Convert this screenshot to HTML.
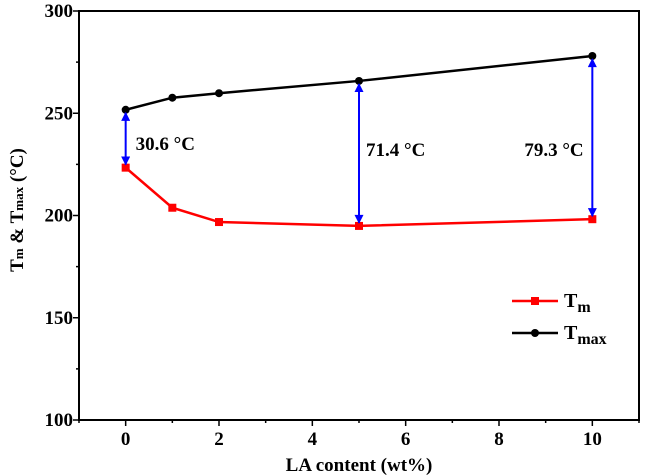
<!DOCTYPE html>
<html><head><meta charset="utf-8"><style>
body{margin:0;background:#fff;}
svg{display:block;font-family:"Liberation Serif",serif;font-weight:bold;}
</style></head><body>
<svg id="c" width="651" height="475">
<defs>
<marker id="ah" viewBox="0 0 10 10" refX="9" refY="5" markerWidth="13" markerHeight="9" orient="auto-start-reverse" markerUnits="userSpaceOnUse"><path d="M0,0 L10,5 L0,10 z" fill="#0000ff"/></marker>
</defs>
</svg>
<script>
const xs=[0,1,2,5,10];
const tm=[223.4,203.8,196.8,194.9,198.2];
const tmax=[251.7,257.6,259.8,265.8,278];
const xTicks=[0,2,4,6,8,10];
const yTicks=[100,150,200,250,300];
const diffs=[{i:0,label:"30.6 °C",dx:10},{i:3,label:"71.4 °C",dx:7},{i:4,label:"79.3 °C",dx:-68}];
const L=79,R=639,T=11,B=420;
const X=v=>L+(v+1)/12*(R-L);
const Y=v=>B-(v-100)/200*(B-T);
const svg=document.getElementById('c');
const NS='http://www.w3.org/2000/svg';
function mk(t,a,p){const e=document.createElementNS(NS,t);for(const k in a)e.setAttribute(k,a[k]);(p||svg).appendChild(e);return e;}
let r=mk('rect',{x:L,y:T,width:R-L,height:B-T,fill:'none',stroke:'#000','stroke-width':2});


for(let v=-1;v<=11;v++){const maj=v%2===0;let t=mk('line',{x1:X(v),x2:X(v),y1:B,y2:B+(maj?6:3),stroke:'#000','stroke-width':1.5});

}
xTicks.forEach(v=>{let t=mk('text',{x:X(v),y:B+25,'text-anchor':'middle','font-size':19});t.textContent=v;

});
for(let v=100;v<=300;v+=25){const maj=v%50===0;let t=mk('line',{x1:L-(maj?6:3),x2:L,y1:Y(v),y2:Y(v),stroke:'#000','stroke-width':1.5});

}
yTicks.forEach(v=>{let t=mk('text',{x:L-6,y:Y(v)+6,'text-anchor':'end','font-size':19});t.textContent=v;

});
let xt=mk('text',{x:X(5),y:471,'text-anchor':'middle','font-size':19});xt.textContent='LA content (wt%)';


let yt=mk('text',{transform:'translate(23,210) rotate(-90)','text-anchor':'middle','font-size':19});
yt.innerHTML='T<tspan font-size="13">m</tspan> &amp; T<tspan font-size="13">max</tspan> (°C)';


function series(vals,col,sq,name){
 let p=mk('polyline',{points:xs.map((x,i)=>X(x)+','+Y(vals[i])).join(' '),fill:'none',stroke:col,'stroke-width':2.5});
 
 
 xs.forEach((x,i)=>{let m=sq?mk('rect',{x:X(x)-4,y:Y(vals[i])-4,width:8,height:8,fill:col}):mk('circle',{cx:X(x),cy:Y(vals[i]),r:4,fill:col});
 
 });
}
series(tm,'#ff0000',true,'tm');
series(tmax,'#000','', 'tmax');
diffs.forEach(d=>{const x=X(xs[d.i]);
 let a=mk('line',{x1:x,x2:x,y1:Y(tmax[d.i])+3,y2:Y(tm[d.i])-3,stroke:'#0000ff','stroke-width':2,'marker-start':'url(#ah)','marker-end':'url(#ah)'});
 
 
 let t=mk('text',{x:x+d.dx,y:d.i===0?150:156,'font-size':19});t.textContent=d.label;
 
 });
[[301,'#ff0000',true,'m'],[333,'#000',false,'max']].forEach(([y,c,sq,s])=>{
 let g=mk('g',{});
 
 
 mk('line',{x1:512,x2:558,y1:y,y2:y,stroke:c,'stroke-width':2.5},g);
 if(sq)mk('rect',{x:531,y:y-4,width:8,height:8,fill:c},g);else mk('circle',{cx:535,cy:y,r:4,fill:c},g);
 let t=mk('text',{x:564,y:y+6,'font-size':20},g);t.innerHTML='T<tspan font-size="16" dy="5">'+s+'</tspan>';
});
</script>
</body></html>
